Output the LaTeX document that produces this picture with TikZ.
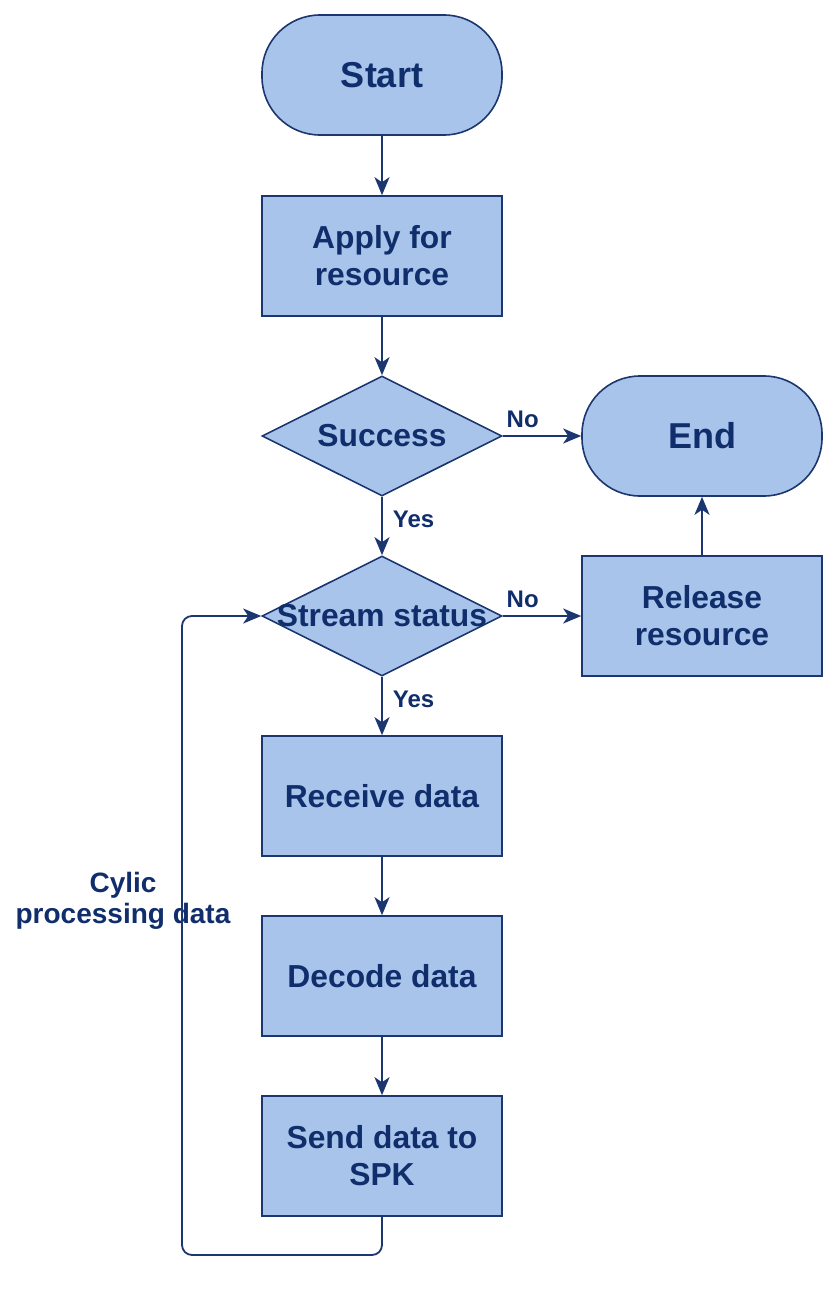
\documentclass[tikz,border=0pt]{standalone}
\usepackage{fontspec}
\setmainfont{Liberation Sans}
\usetikzlibrary{arrows.meta,shapes.geometric}
\definecolor{boxfill}{HTML}{A9C4EB}
\definecolor{boxline}{HTML}{1C3670}
\definecolor{boxtext}{HTML}{102E6C}
\begin{document}
\begin{tikzpicture}[x=1pt, y=-1pt,
        every node/.style = {text=boxtext},
        terminal/.style = {draw=boxline, fill=boxfill, line width=1.6pt, rounded corners=58pt,
            minimum width=240pt, minimum height=120pt, font=\fontsize{36}{40}\bfseries},
        process/.style = {draw=boxline, fill=boxfill, line width=1.6pt, align=center,
            minimum width=240pt, minimum height=120pt, font=\fontsize{31.8}{37}\bfseries},
        decision/.style = {draw=boxline, fill=boxfill, line width=1.6pt, diamond, inner sep=0pt,
            minimum width=240pt, minimum height=120pt},
        dtext/.style = {font=\fontsize{31.8}{37}\bfseries, text=boxtext},
        flow/.style = {draw=boxline, line width=1.8pt, -{Stealth[length=18pt, width=15pt, inset=5pt]}},
        answer/.style = {font=\fontsize{24}{28}\bfseries, inner sep=3pt},
        note/.style = {font=\fontsize{28}{31}\bfseries, align=center}]
    \useasboundingbox (0, 0) rectangle (840, 1290);

    \node [terminal] (start) at (382, 75) {Start};
    \node [process] (apply) at (382, 256) {Apply for\\resource};
    \node [decision, label={[dtext]center:Success}] (success) at (382, 436) {};
    \node [terminal] (end) at (702, 436) {End};
    \node [decision, label={[dtext]center:Stream status}] (stream) at (382, 616) {};
    \node [process] (release) at (702, 616) {Release\\resource};
    \node [process] (receive) at (382, 796) {Receive data};
    \node [process] (decode) at (382, 976) {Decode data};
    \node [process] (send) at (382, 1156) {Send data to\\SPK};
    \coordinate (loopcorner) at (182, 1255);
    \node [note] (looptext) at (123, 901) {Cylic\\processing data};

    \draw [flow] (start) -- (apply);
    \draw [flow] (apply) -- (success);
    \draw [flow] (success.east) -- node [answer, pos=0, anchor=base west, yshift=9pt] {No} (end.west);
    \draw [flow] (success.south) -- node [answer, pos=0.5, anchor=base west, xshift=7pt, yshift=-1pt] {Yes} (stream.north);
    \draw [flow] (stream.east) -- node [answer, pos=0, anchor=base west, yshift=9pt] {No} (release.west);
    \draw [flow] (release) -- (end);
    \draw [flow] (stream.south) -- node [answer, pos=0.5, anchor=base west, xshift=7pt, yshift=-1pt] {Yes} (receive.north);
    \draw [flow] (receive) -- (decode);
    \draw [flow] (decode) -- (send);
    \draw [flow, rounded corners=10pt] (send.south) |- (loopcorner) |- (stream.west);
\end{tikzpicture}
\end{document}
